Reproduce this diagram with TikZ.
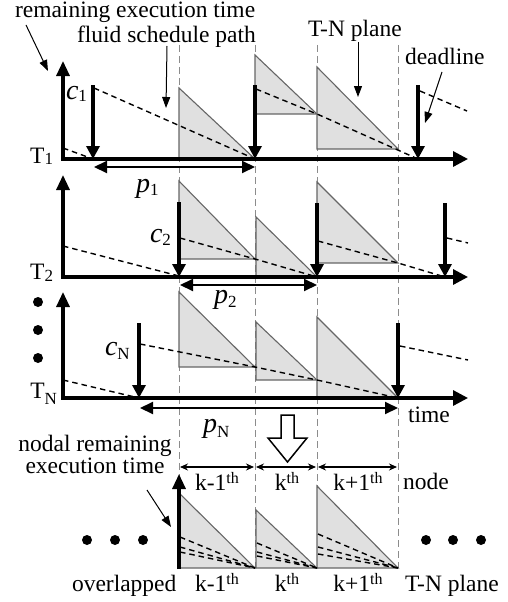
\documentclass[tikz,border=0pt]{standalone}
\usepackage{fontspec}
\setmainfont{Liberation Serif}
\usetikzlibrary{arrows.meta}
\newcommand\lsub[2][-5pt]{\raisebox{#1}{\fontsize{17}{17}\selectfont #2}}
\newcommand\lsup[1]{\raisebox{7pt}{\fontsize{16}{16}\selectfont #1}}
\newcommand\bigital[1]{{\fontsize{28}{28}\selectfont\itshape #1}}
\begin{document}
\begin{tikzpicture}[x=1pt,y=-1pt,
  lbl/.style={inner sep=0pt, outer sep=0pt, font=\fontsize{23.5}{20}\selectfont},
  axisline/.style={line width=3.2pt, {Triangle[length=15pt,width=13pt]}-{Triangle[length=15pt,width=15pt]}},
  upaxis/.style={line width=3.2pt, -{Triangle[length=15pt,width=13pt]}},
  carrow/.style={line width=3.2pt, -{Triangle[length=13pt,width=13pt]}},
  parrow/.style={line width=2pt, {Triangle[length=13pt,width=12pt]}-{Triangle[length=13pt,width=12pt]}},
  tri/.style={draw=black!60, fill=black!12, line width=1.1pt},
  vguide/.style={draw=black!45, line width=1pt, dash pattern=on 7pt off 4pt},
  fluid/.style={line width=1.4pt, dash pattern=on 5.5pt off 4pt},
  pointer/.style={line width=1pt, -{Triangle[length=11pt,width=8pt]}},
  nodearr/.style={line width=1.1pt, {Stealth[length=8pt,width=7pt]}-{Stealth[length=8pt,width=7pt]}},
  dot/.style={circle, fill=black, inner sep=0pt, minimum size=10pt},
]
\useasboundingbox (0,0) rectangle (507,602);

% vertical guide lines
\foreach \x/\n in {179/a,255/b,317/c,398/d}{
  \coordinate (g\n t) at (\x,45);
  \coordinate (g\n b) at (\x,568);
  \draw[vguide] (g\n t) -- (g\n b);
}

% ---------- T1 panel ----------
\filldraw[tri] (179,88) -- (255,159) -- (179,159) -- cycle;
\filldraw[tri] (255,55) -- (317,114) -- (255,114) -- cycle;
\filldraw[tri] (317,67) -- (398,149) -- (317,149) -- cycle;
\coordinate (t1top) at (63,61);
\coordinate (t1o) at (63,159);
\coordinate (t1end) at (468,159);
\draw[fluid] (63,148) -- (93,159);
\draw[fluid] (94,88) -- (255,159);
\draw[fluid] (256,89) -- (317,114) -- (418,159);
\draw[fluid] (420,91) -- (467,111);
\draw[axisline] (t1top) -- (t1o) -- (t1end);
\coordinate (c1a) at (93,85);  \coordinate (c1b) at (93,159);
\coordinate (c1c) at (255,85); \coordinate (c1d) at (255,159);
\coordinate (c1e) at (418,85); \coordinate (c1f) at (418,159);
\draw[carrow] (c1a) -- (c1b);
\draw[carrow] (c1c) -- (c1d);
\draw[carrow] (c1e) -- (c1f);
\coordinate (p1a) at (94,167); \coordinate (p1b) at (255,167);
\draw[parrow] (p1a) -- (p1b);
\node[lbl, anchor=base east] (T1) at (53,163) {T\lsub[-1pt]{1}};
\node[lbl, anchor=base west] (c1) at (66,99) {\bigital{c}\lsub[-2pt]{1}};
\node[lbl, anchor=base west] (p1) at (136,192) {\bigital{p}\lsub[-3pt]{1}};

% top labels
\node[lbl, anchor=base west] (ret) at (15,17.5) {remaining execution time};
\node[lbl, anchor=base west] (fsp) at (77,43) {fluid schedule path};
\node[lbl, anchor=base west] (tnp) at (308,37) {T-N plane};
\node[lbl, anchor=base west] (dl) at (405,65) {deadline};
\coordinate (r1) at (26,25);  \coordinate (r2) at (48,71);
\coordinate (f1) at (167,46); \coordinate (f2) at (166,108);
\coordinate (n1) at (358,42); \coordinate (n2) at (358,97);
\coordinate (d1) at (442,72); \coordinate (d2) at (425,123);
\draw[pointer] (r1) -- (r2);
\draw[pointer] (f1) -- (f2);
\draw[pointer] (n1) -- (n2);
\draw[pointer] (d1) -- (d2);

% ---------- T2 panel ----------
\filldraw[tri] (179,181) -- (255,259) -- (179,259) -- cycle;
\filldraw[tri] (256,217) -- (317,277) -- (256,277) -- cycle;
\filldraw[tri] (317,182) -- (398,263) -- (317,263) -- cycle;
\draw[fluid] (63,246) -- (179,276);
\draw[fluid] (180,238) -- (255,259) -- (317,277);
\draw[fluid] (318,241) -- (398,263) -- (445,277);
\draw[fluid] (447,238) -- (468,243);
\coordinate (t2top) at (63,175);
\coordinate (t2o) at (63,277);
\coordinate (t2end) at (468,277);
\draw[axisline] (t2top) -- (t2o) -- (t2end);
\coordinate (c2a) at (179,202); \coordinate (c2b) at (179,277);
\coordinate (c2c) at (317,203); \coordinate (c2d) at (317,277);
\coordinate (c2e) at (445,203); \coordinate (c2f) at (445,277);
\draw[carrow] (c2a) -- (c2b);
\draw[carrow] (c2c) -- (c2d);
\draw[carrow] (c2e) -- (c2f);
\coordinate (p2a) at (180,285); \coordinate (p2b) at (317,285);
\draw[parrow] (p2a) -- (p2b);
\node[lbl, anchor=base east] (T2) at (53,279) {T\lsub[-2pt]{2}};
\node[lbl, anchor=base west] (c2) at (150,242) {\bigital{c}\lsub[-3pt]{2}};
\node[lbl, anchor=base west] (p2) at (214,303) {\bigital{p}\lsub[-4pt]{2}};

% dots
\node[dot] (v1) at (38,302) {};
\node[dot] (v2) at (38,330) {};
\node[dot] (v3) at (38,358) {};

% ---------- TN panel ----------
\filldraw[tri] (179,292) -- (255,367) -- (179,367) -- cycle;
\filldraw[tri] (256,322) -- (317,380) -- (256,380) -- cycle;
\filldraw[tri] (317,317) -- (398,398) -- (317,398) -- cycle;
\draw[fluid] (63,380) -- (139,398);
\draw[fluid] (140,344) -- (255,367) -- (317,380) -- (398,398);
\draw[fluid] (400,346) -- (468,360);
\coordinate (tntop) at (63,292);
\coordinate (tno) at (63,398);
\coordinate (tnend) at (468,398);
\draw[axisline] (tntop) -- (tno) -- (tnend);
\coordinate (cna) at (139,323); \coordinate (cnb) at (139,398);
\coordinate (cnc) at (398,323); \coordinate (cnd) at (398,398);
\draw[carrow] (cna) -- (cnb);
\draw[carrow] (cnc) -- (cnd);
\coordinate (pna) at (140,408); \coordinate (pnb) at (398,408);
\draw[parrow] (pna) -- (pnb);
\node[lbl, anchor=base east] (TN) at (57,398) {T\lsub[-6pt]{N}};
\node[lbl, anchor=base west] (cN) at (105,355) {\bigital{c}\lsub[-4pt]{N}};
\node[lbl, anchor=base west] (pN) at (203,432) {\bigital{p}\lsub[-5pt]{N}};
\node[lbl, anchor=base west] (time) at (408,422) {time};

% ---------- bottom: nodes ----------
\draw[line width=1.5pt, fill=white] (281,415) -- (294,415) -- (294,438) -- (307,438) -- (287.5,462) -- (268,438) -- (281,438) -- cycle;
\coordinate (k1a) at (180,467); \coordinate (k1b) at (254,467);
\coordinate (k2a) at (256,467); \coordinate (k2b) at (316,467);
\coordinate (k3a) at (318,467); \coordinate (k3b) at (397,467);
\draw[nodearr] (k1a) -- (k1b);
\draw[nodearr] (k2a) -- (k2b);
\draw[nodearr] (k3a) -- (k3b);
\node[lbl, anchor=base] (lk1) at (217,490) {k-1\lsup{th}};
\node[lbl, anchor=base] (lk2) at (287,490) {k\lsup{th}};
\node[lbl, anchor=base] (lk3) at (358,490) {k+1\lsup{th}};
\node[lbl, anchor=base west] (nodel) at (403,489) {node};
\node[lbl, anchor=base, align=center] (nret) at (95,473) {nodal remaining\\execution time};

\filldraw[tri] (179,493) -- (255,568) -- (179,568) -- cycle;
\filldraw[tri] (256,510) -- (317,568) -- (256,568) -- cycle;
\filldraw[tri] (317,486) -- (398,568) -- (317,568) -- cycle;
\foreach \y in {537,547,552}{\draw[fluid] (180,\y) -- (255,568);}
\foreach \y in {543,552,556}{\draw[fluid] (257,\y) -- (317,568);}
\foreach \y in {534,547,554}{\draw[fluid] (318,\y) -- (398,568);}
\coordinate (ba) at (179,569); \coordinate (bb) at (179,474);
\draw[upaxis] (ba) -- (bb);
\coordinate (q1) at (147,490); \coordinate (q2) at (171,527);
\draw[pointer] (q1) -- (q2);

\node[dot] (w1) at (87,540) {};
\node[dot] (w2) at (115,540) {};
\node[dot] (w3) at (143,540) {};
\node[dot] (w4) at (426,540) {};
\node[dot] (w5) at (453,540) {};
\node[dot] (w6) at (481,540) {};

\node[lbl, anchor=base west] (ovl) at (72,591) {overlapped};
\node[lbl, anchor=base] (bk1) at (217,591) {k-1\lsup{th}};
\node[lbl, anchor=base] (bk2) at (287,591) {k\lsup{th}};
\node[lbl, anchor=base] (bk3) at (358,591) {k+1\lsup{th}};
\node[lbl, anchor=base west] (btn) at (405,591) {T-N plane};
\end{tikzpicture}
\end{document}
